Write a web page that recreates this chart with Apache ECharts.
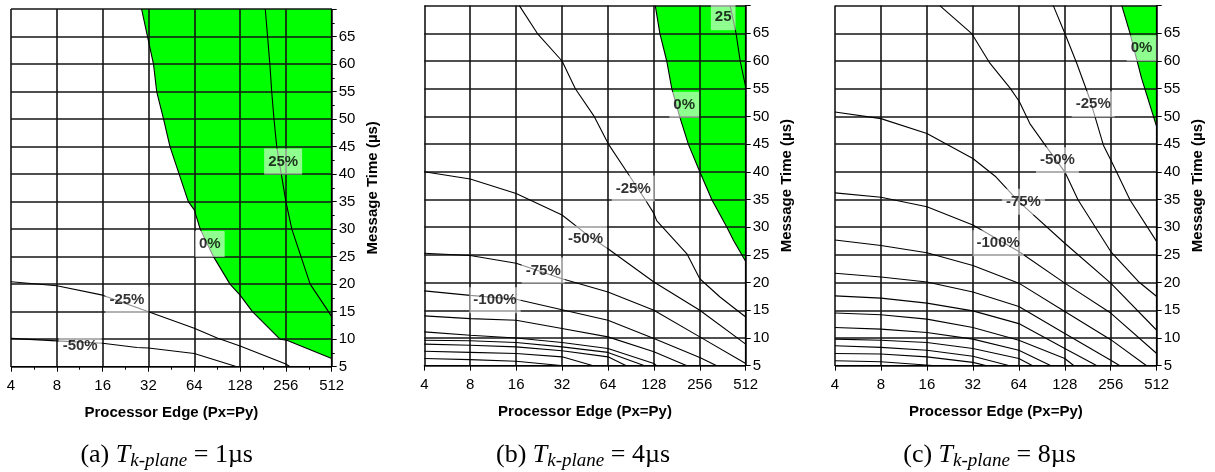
<!DOCTYPE html>
<html>
<head>
<meta charset="utf-8">
<script src="https://cdn.jsdelivr.net/npm/echarts@6/dist/echarts.min.js"></script>
<style>
  html, body { margin: 0; padding: 0; background: #fff; }
  #chart { width: 1215px; height: 472px; }
</style>
</head>
<body>
<div id="chart"></div>
<script>
// x values are log2(processor edge): 2 -> 4, 9 -> 512 ; y values are message time (µs)
var xTickExponents = [2, 3, 4, 5, 6, 7, 8, 9];
var yTicks = [5, 10, 15, 20, 25, 30, 35, 40, 45, 50, 55, 60, 65, 70];
var captions = ['(a) ', '(b) ', '(c) '];
var captionValues = [' = 1µs', ' = 4µs', ' = 8µs'];

// ---- Panel (a): T k-plane = 1µs ----
var a_zero = [[4.85,70],[4.98,65],[5.11,60],[5.18,55],[5.33,50],[5.47,45],[5.67,40],[5.87,35],[6.0,33.5],[6.13,30],[6.42,25],[6.78,20],[7.0,18],[7.27,15],[7.87,10],[8.02,9.8],[9.0,6.5]];
var a_p25 = [[7.55,70],[7.6,65],[7.65,60],[7.69,55],[7.74,50],[7.8,45],[7.9,40],[8.0,35],[8.13,30],[8.33,25],[8.53,20],[8.93,15],[9.0,14.1]];
var a_m25 = [[2,20.45],[3,19.7],[4,18.0],[5,15.0],[6,12.0],[6.5,10.2],[7,8.76],[8,5.5],[8.09,5]];
var a_m50 = [[2,10.15],[3,9.7],[4,9.25],[4.75,8.5],[5,8.4],[6,7.4],[6.93,5]];
var a_labels = [[7.94,42.3,'25%'],[6.34,27.3,'0%'],[4.53,17.1,'-25%'],[3.51,8.8,'-50%']];

// ---- Panel (b): T k-plane = 4µs ----
var b_zero = [[7.03,70],[7.13,65],[7.28,60],[7.39,55],[7.56,50],[7.75,45],[8.0,40],[8.26,35],[8.59,30],[8.73,27.7],[9.0,23.8]];
var b_p25 = [[8.66,70],[8.79,65],[8.88,60],[9.0,55.3]];
var b_m25 = [[4.07,70],[4.46,65],[5.0,60],[5.29,55],[5.7,50],[6.01,45],[6.41,40],[6.81,35],[7.0,32.5],[7.06,31.2],[7.72,25.2],[8.0,20.7],[8.44,17.4],[9.0,13.8]];
var b_m50 = [[2,40],[3,38.7],[4,36.1],[5,32.2],[5.6,28.3],[6,26.1],[7,20.1],[8,15.0],[9,8.9]];
var b_m75 = [[2,25.3],[3,24.9],[4,23.5],[5,20.7],[6,18.3],[7,15.0],[8,10.2],[9,5.4]];
var b_m100 = [[2,18.5],[3,17.7],[4,17.0],[5,15.1],[6,13.2],[7,9.9],[8,6.5],[8.37,5]];
var b_m125 = [[2,14.0],[3,13.5],[4,13.2],[5,11.7],[6,10.2],[7,7.5],[7.72,5]];
var b_m150 = [[2,11.1],[3,10.5],[4,10.0],[5,9.2],[6,8.1],[7,5.4],[7.06,5]];
var b_m175 = [[2,9.6],[3,9.5],[4,9.2],[5,8.4],[6,7.4],[6.8,5]];
var b_m200 = [[2,8.9],[3,8.7],[4,8.4],[5,7.7],[6,6.6],[6.4,5]];
var b_m225 = [[2,7.6],[3,7.4],[4,7.2],[5,6.6],[5.68,5]];
var b_m250 = [[2,6.3],[3,6.1],[4,5.8],[5.03,5]];
var b_labels = [[8.51,67.9,'25'],[7.66,52.1,'0%'],[6.55,37.0,'-25%'],[5.51,27.9,'-50%'],[4.59,22.2,'-75%'],[3.54,16.8,'-100%']];

// ---- Panel (c): T k-plane = 8µs ----
var c_zero = [[8.24,70],[8.42,65],[8.53,61.4],[8.67,56.9],[9.0,48.1]];
var c_m25 = [[6.75,70],[7.0,65],[7.26,59.6],[7.55,53],[7.84,44.8],[8.02,41.8],[8.42,34.9],[9.0,27.4]];
var c_m50 = [[4.28,70],[4.97,65],[5.37,59.6],[5.81,55.1],[6.01,52.7],[6.24,48.7],[6.6,44.5],[7.0,40],[7.29,34.9],[8.0,25.6],[8.6,20.2],[9.0,17.5]];
var c_m75 = [[2,50.8],[3,49.6],[4,46.9],[5,42.4],[5.5,39.1],[6,34.6],[7,27.1],[8,19.9],[9,11.4]];
var c_m100 = [[2,36.2],[3,35.4],[4,33.7],[5,30.4],[6,25.6],[7,19.9],[8,14.5],[9,7.2]];
var c_m125 = [[2,27.7],[3,26.7],[4,25.4],[5,23.1],[6,19.9],[7,14.8],[8,9.7],[8.78,5]];
var c_m150 = [[2,21.7],[3,21.0],[4,20.1],[5,18.3],[6,15.7],[7,10.8],[8,6.0],[8.2,5]];
var c_m175 = [[2,17.6],[3,17.2],[4,16.3],[5,14.9],[6,12.6],[7,8.1],[7.7,5]];
var c_m200 = [[2,14.5],[3,14.2],[4,13.4],[5,11.9],[6,9.6],[7,6.3],[7.2,5]];
var c_m225 = [[2,11.9],[3,11.6],[4,11.0],[5,9.8],[6,7.8],[6.7,5]];
var c_m250 = [[2,9.8],[3,9.6],[4,9.2],[5,8.1],[6,6.3],[6.3,5]];
var c_m275 = [[2,8.6],[3,8.3],[4,7.8],[5,6.7],[5.8,5]];
var c_m300 = [[2,7.2],[3,7.1],[4,6.6],[5,5.6],[5.3,5]];
var c_m325 = [[2,5.9],[3,5.7],[4.2,5]];
var c_labels = [[8.67,62.3,'0%'],[7.62,52.2,'-25%'],[6.84,42.1,'-50%'],[6.1,34.6,'-75%'],[5.55,27.1,'-100%']];

var panels = [
  { zero: a_zero, lines: [a_zero, a_p25, a_m25, a_m50], labels: a_labels, minor: true },
  { zero: b_zero, lines: [b_zero, b_p25, b_m25, b_m50, b_m75, b_m100, b_m125, b_m150, b_m175, b_m200, b_m225, b_m250], labels: b_labels, minor: false },
  { zero: c_zero, lines: [c_zero, c_m25, c_m50, c_m75, c_m100, c_m125, c_m150, c_m175, c_m200, c_m225, c_m250, c_m275, c_m300, c_m325], labels: c_labels, minor: false }
];

var grids = [
  { left: 11, top: 9, width: 320.7, height: 357.7 },
  { left: 424.3, top: 5.6, width: 321.4, height: 360.1 },
  { left: 835, top: 5.6, width: 321.7, height: 360.1 }
];
var captionX = [166.7, 583, 989.5];

var FONT = 'Liberation Sans, Arial, Helvetica, sans-serif';
var SERIF = 'Liberation Serif, Times New Roman, serif';
var gridLine = { show: true, lineStyle: { color: '#151515', width: 1.6 } };

var xAxes = [], yAxes = [], series = [], graphics = [];
panels.forEach(function (p, i) {
  xAxes.push({
    type: 'value', gridIndex: i,
    min: xTickExponents[0], max: xTickExponents[xTickExponents.length - 1], interval: 1,
    axisLine: { show: true, onZero: false, lineStyle: { color: '#000', width: 1.2 } },
    axisTick: { show: true, length: 5, lineStyle: { color: '#000' } },
    minorTick: { show: p.minor, splitNumber: 2, length: 3, lineStyle: { color: '#000' } },
    splitLine: gridLine,
    axisLabel: { color: '#000', fontSize: 15, fontFamily: FONT, margin: 12,
      formatter: function (v) { return String(Math.round(Math.pow(2, v))); } },
    name: 'Processor Edge (Px=Py)', nameLocation: 'middle', nameGap: 39,
    nameTextStyle: { color: '#000', fontWeight: 'bold', fontSize: 15, fontFamily: FONT }
  });
  yAxes.push({
    type: 'value', gridIndex: i, position: 'right',
    min: yTicks[0], max: yTicks[yTicks.length - 1], interval: 5,
    axisLine: { show: true, lineStyle: { color: '#000', width: 1.2 } },
    axisTick: { show: true, length: 5, lineStyle: { color: '#000' } },
    minorTick: { show: p.minor, splitNumber: 2, length: 3, lineStyle: { color: '#000' } },
    splitLine: gridLine,
    axisLabel: { color: '#000', fontSize: 15, fontFamily: FONT, margin: 7,
      formatter: function (v) { return v === 70 ? '' : String(v); } },
    name: 'Message Time (µs)', nameLocation: 'middle', nameGap: 34, nameRotate: 90,
    nameTextStyle: { color: '#000', fontWeight: 'bold', fontSize: 15, fontFamily: FONT }
  });
  // green region (0% boundary to top/right)
  series.push({
    type: 'line', xAxisIndex: i, yAxisIndex: i, data: p.zero, z: -1,
    symbol: 'none', silent: true, animation: false,
    lineStyle: { width: 0, opacity: 0 },
    areaStyle: { color: '#00ff00', opacity: 1, origin: 'end' }
  });
  p.lines.forEach(function (ln) {
    series.push({
      type: 'line', xAxisIndex: i, yAxisIndex: i, data: ln, z: 3,
      symbol: 'none', silent: true, animation: false,
      lineStyle: { color: '#000', width: 1.1 }
    });
  });
  series.push({
    type: 'scatter', xAxisIndex: i, yAxisIndex: i, data: p.labels, z: 10,
    symbolSize: 1, itemStyle: { color: 'rgba(0,0,0,0)' }, silent: true, animation: false,
    label: {
      show: true, position: 'inside', formatter: function (d) { return d.value[2]; },
      color: '#000', fontWeight: 'bold', fontSize: 15, fontFamily: FONT,
      backgroundColor: 'rgba(255,255,255,0.7)', padding: [6, 4, 5, 4]
    }
  });
  graphics.push({
    type: 'text', x: captionX[i], y: 455, silent: true,
    style: {
      text: '{n|' + captions[i] + '}{t|T}{s|k-plane}{n|' + captionValues[i] + '}',
      align: 'center', verticalAlign: 'middle',
      rich: {
        n: { fontSize: 26, fontFamily: SERIF, color: '#000', lineHeight: 30, verticalAlign: 'middle' },
        t: { fontSize: 26, fontFamily: SERIF, fontStyle: 'italic', color: '#000', lineHeight: 30, verticalAlign: 'middle' },
        s: { fontSize: 19, fontFamily: SERIF, fontStyle: 'italic', color: '#000', lineHeight: 20, verticalAlign: 'bottom' }
      }
    }
  });
});

var chart = echarts.init(document.getElementById('chart'), null, { renderer: 'canvas' });
chart.setOption({
  animation: false,
  backgroundColor: '#fff',
  grid: grids,
  xAxis: xAxes,
  yAxis: yAxes,
  series: series,
  graphic: graphics
});
</script>
</body>
</html>
